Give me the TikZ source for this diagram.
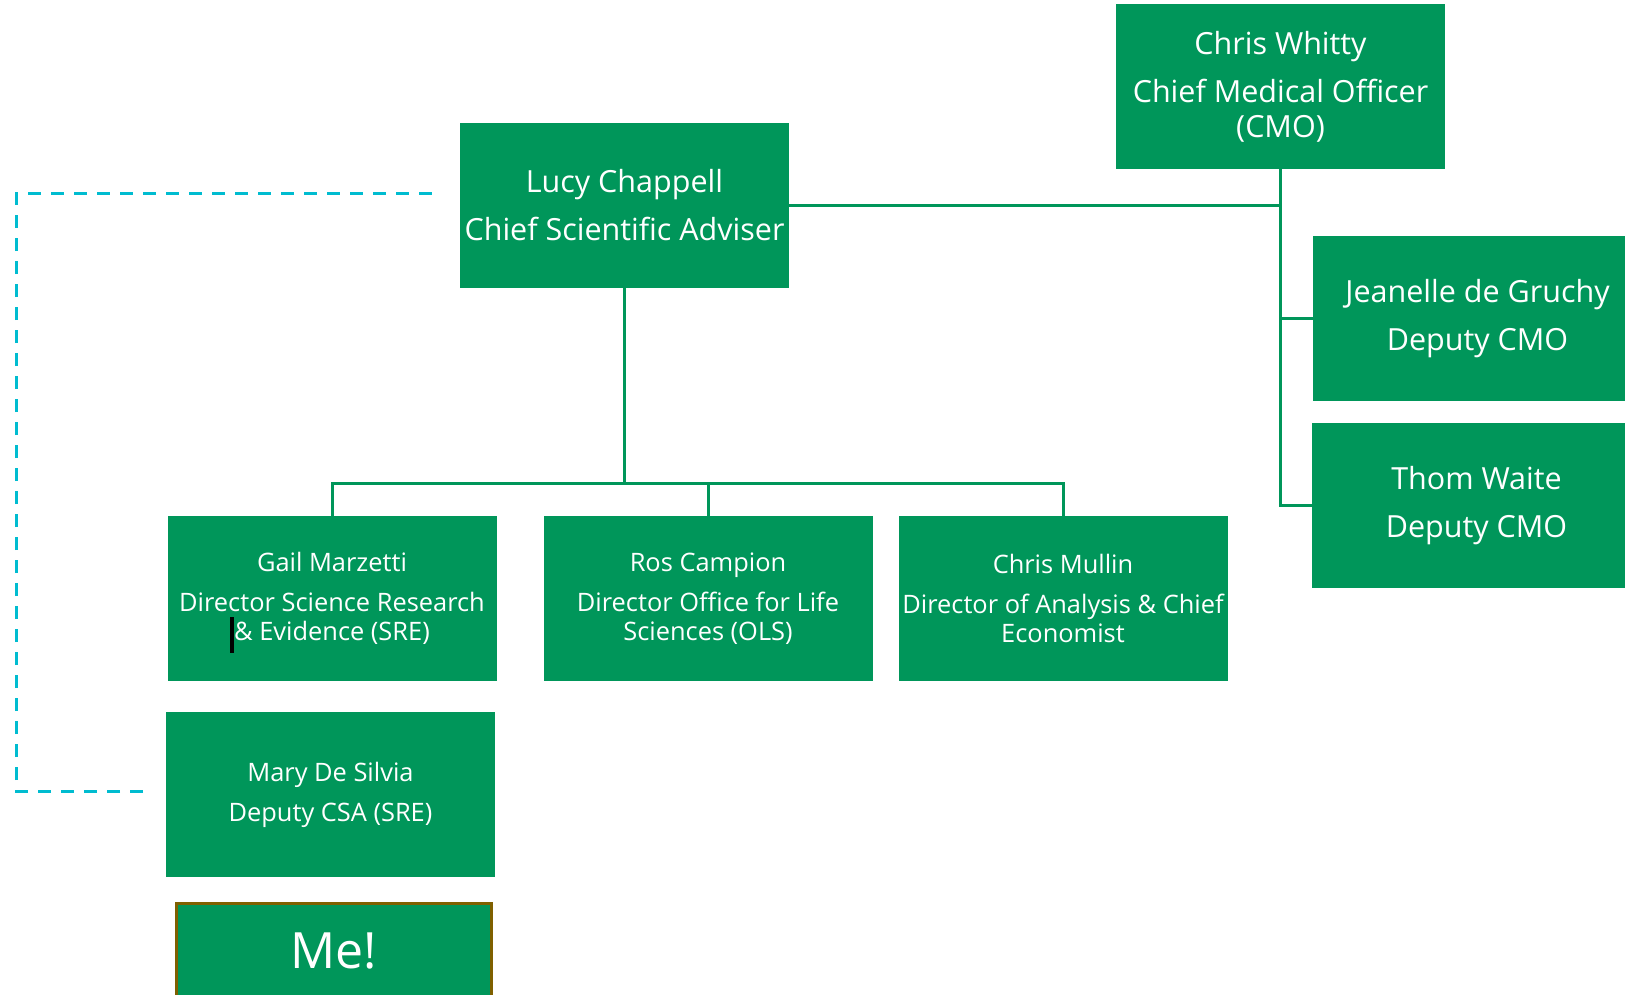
\documentclass[tikz,border=0pt]{standalone}
\usepackage{fontspec}
\setmainfont{Open Sans}
\usetikzlibrary{positioning}
\definecolor{dhscgreen}{HTML}{00965A}
\definecolor{dashcyan}{HTML}{00BCD0}
\definecolor{mebrown}{HTML}{7F6000}

\begin{document}
\begin{tikzpicture}[x=1pt,y=-1pt,post/.style={fill=dhscgreen,text=white,minimum width=329pt,minimum height=165pt,inner sep=0pt,align=center,font=\fontsize{30.5}{35}\selectfont},subpost/.style={post,font=\fontsize{25.4}{29}\selectfont},link/.style={draw=dhscgreen,line width=3pt},dashlink/.style={draw=dashcyan,line width=3pt,dash pattern=on 13pt off 10pt}]
\clip (0,0) rectangle (1625,995);
\node[post] (cmo) at (1280.5,86.5) {Chris Whitty\\[13pt]Chief Medical Officer\\(CMO)};
\node[post] (csa) at (624.5,205.5) {Lucy Chappell\\[13pt]Chief Scientific Adviser};
\node[post] (jea) at (1477.5,318.5) {Jeanelle de Gruchy\\[13pt]Deputy CMO};
\node[post] (thom) at (1476.5,505.5) {Thom Waite\\[13pt]Deputy CMO};
\node[subpost] (gail) at (332,598.5) {Gail Marzetti\\[11pt]Director Science Research\\\llap{\smash{\color{black}\rule[-12pt]{4pt}{36pt}}}\& Evidence (SRE)};
\node[subpost] (ros) at (708,598.5) {Ros Campion\\[11pt]Director Office for Life\\Sciences (OLS)};
\node[subpost] (mullin) at (1063,598.5) {Chris Mullin\\[11pt]Director of Analysis \& Chief\\Economist};
\node[subpost] (mary) at (330.5,794.5) {Mary De Silvia\\[11pt]Deputy CSA (SRE)};
\node[post,draw=mebrown,line width=3pt,minimum width=315pt,minimum height=96pt,font=\fontsize{50}{54}\selectfont] (me) at (334,951) {Me!};
\coordinate (bus) at (624.5,483);
\coordinate (dstart) at (442,194);
\coordinate (dend) at (143,791);
\draw[link] (cmo.south) |- (thom.west);
\draw[link] (csa.east) -- (csa.east -| cmo.south);
\draw[link] (cmo.south |- jea.west) -- (jea.west);
\draw[link] (csa.south) -- (bus);
\draw[link] (gail.north) |- (bus) -| (mullin.north);
\draw[link] (ros.north) -- (ros.north |- bus);
\draw[dashlink] (dend) -- (16,791) |- (dstart);
\end{tikzpicture}
\end{document}
